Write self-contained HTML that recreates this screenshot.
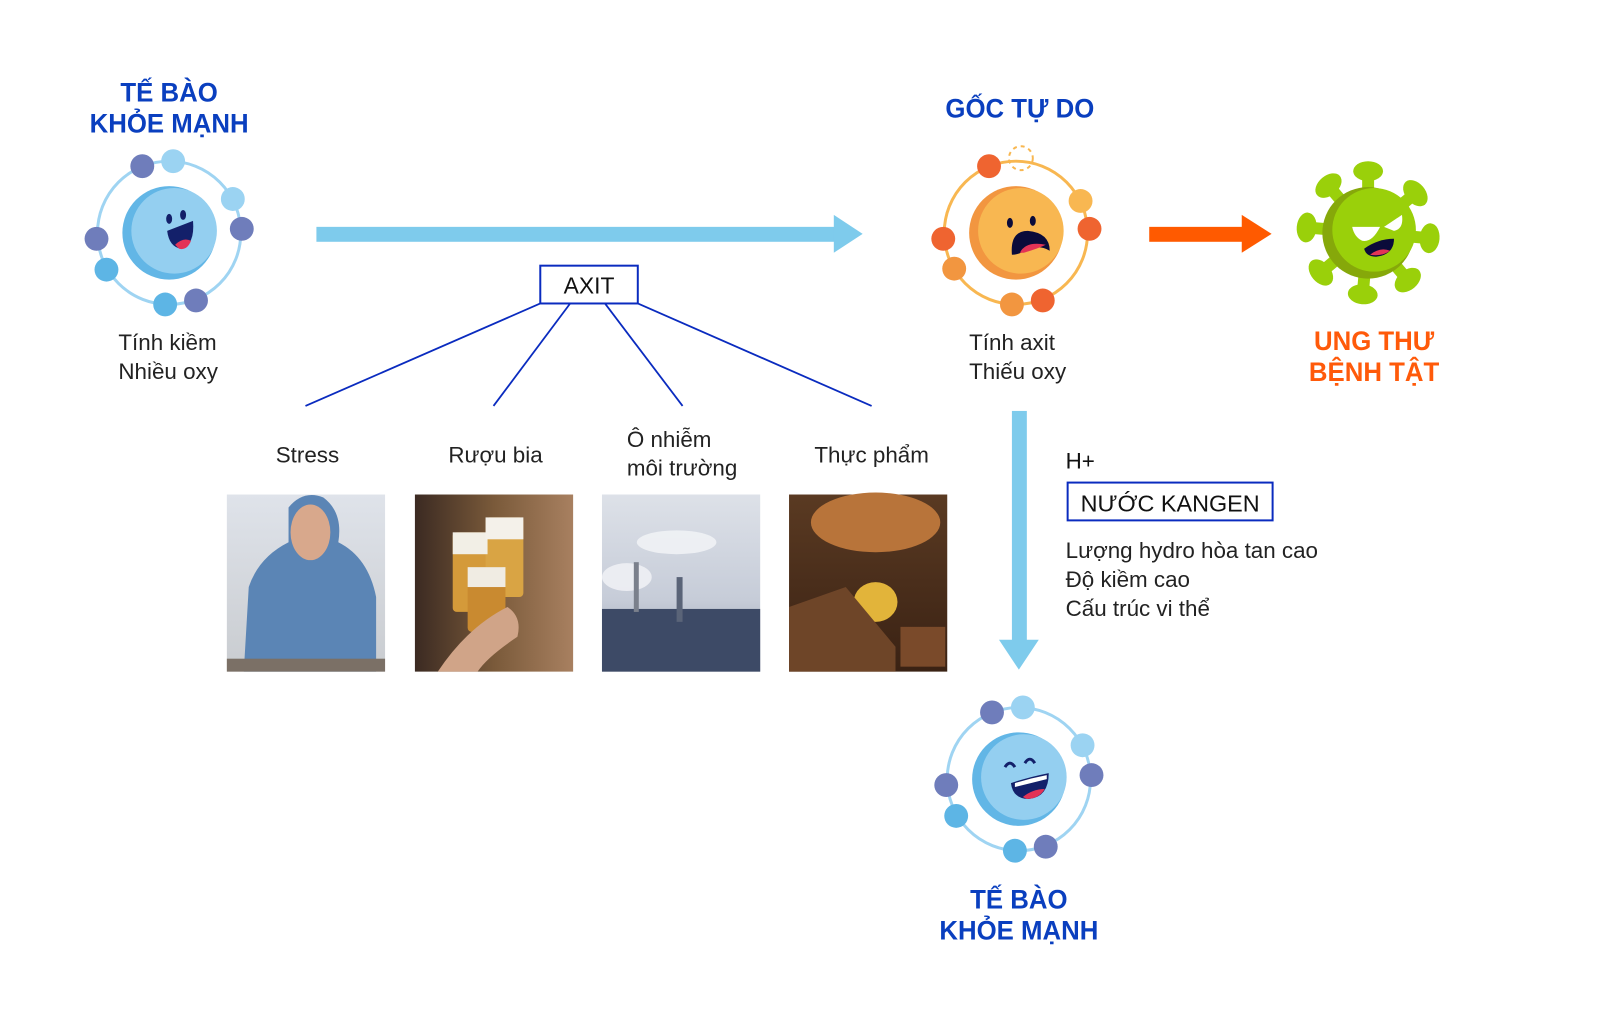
<!DOCTYPE html>
<html><head><meta charset="utf-8"><style>
html,body{margin:0;padding:0;background:#fff;}
svg{display:block;}
.t{font-family:"Liberation Sans",sans-serif;}
</style></head><body>
<svg width="1600" height="1023" viewBox="0 0 1600 1023" xmlns="http://www.w3.org/2000/svg">
<defs>
<g id="cellB">
 <circle cx="0" cy="0" r="72" fill="none" stroke="#9fd4f2" stroke-width="3"/>
 <circle cx="-27" cy="-67" r="12" fill="#6f7dbb"/>
 <circle cx="4" cy="-72" r="12" fill="#9bd3f2"/>
 <circle cx="64" cy="-34" r="12" fill="#9bd3f2"/>
 <circle cx="73" cy="-4" r="12" fill="#6f7dbb"/>
 <circle cx="-73" cy="6" r="12" fill="#6f7dbb"/>
 <circle cx="-63" cy="37" r="12" fill="#5db5e5"/>
 <circle cx="-4" cy="72" r="12" fill="#5db5e5"/>
 <circle cx="27" cy="68" r="12" fill="#6f7dbb"/>
 <circle cx="0" cy="0" r="47" fill="#62b6e6"/>
 <circle cx="5" cy="-2" r="43" fill="#94cff0"/>
</g>
<linearGradient id="p1" x1="0" y1="0" x2="0" y2="1"><stop offset="0" stop-color="#dfe3ea"/><stop offset="1" stop-color="#c9ccd0"/></linearGradient>
<linearGradient id="p2" x1="0" y1="0" x2="1" y2="0"><stop offset="0" stop-color="#3b2a22"/><stop offset="0.5" stop-color="#7a5a3a"/><stop offset="1" stop-color="#a88060"/></linearGradient>
<linearGradient id="p3" x1="0" y1="0" x2="0" y2="1"><stop offset="0" stop-color="#dde1e8"/><stop offset="0.6" stop-color="#c6ccd8"/><stop offset="1" stop-color="#8f98aa"/></linearGradient>
<linearGradient id="p4" x1="0" y1="0" x2="0" y2="1"><stop offset="0" stop-color="#5a3a22"/><stop offset="1" stop-color="#3a2214"/></linearGradient>
</defs>
<g transform="scale(0.995)">

<!-- Left cell -->
<g transform="translate(170,234)">
 <use href="#cellB"/>
 <ellipse cx="0" cy="-14" rx="3" ry="5" fill="#13206a"/>
 <ellipse cx="14" cy="-18" rx="3" ry="5" fill="#13206a"/>
 <path d="M-2 -2 L24 -12 Q26 12 12 16 Q0 14 -2 -2 Z" fill="#13206a"/>
 <path d="M6 12 Q14 4 22 8 Q18 18 10 16Z" fill="#e33356"/>
</g>
<text class="t" x="170" y="102" text-anchor="middle" font-size="27" font-weight="bold" fill="#0a3fbf" transform="translate(170,0) scale(0.96,1) translate(-170,0)">TẾ BÀO</text>
<text class="t" x="170" y="133" text-anchor="middle" font-size="27" font-weight="bold" fill="#0a3fbf" transform="translate(170,0) scale(0.96,1) translate(-170,0)">KHỎE MẠNH</text>
<text class="t" x="119" y="352" font-size="22.5" fill="#222">Tính kiềm</text>
<text class="t" x="119" y="381" font-size="22.5" fill="#222">Nhiều oxy</text>

<rect x="318" y="228" width="525" height="15" fill="#7ecbec"/>
<polygon points="838,216 867,235 838,254" fill="#7ecbec"/>

<rect x="543" y="267" width="98" height="38" fill="#fff" stroke="#0a2bbf" stroke-width="2"/>
<text class="t" x="592" y="295" text-anchor="middle" font-size="23" fill="#111">AXIT</text>
<g stroke="#0a2bbf" stroke-width="1.8">
<line x1="543" y1="305" x2="307" y2="408"/>
<line x1="573" y1="305" x2="496" y2="408"/>
<line x1="608" y1="305" x2="686" y2="408"/>
<line x1="641" y1="305" x2="876" y2="408"/>
</g>
<text class="t" x="309" y="465" text-anchor="middle" font-size="22.5" fill="#222">Stress</text>
<text class="t" x="498" y="465" text-anchor="middle" font-size="22.5" fill="#222">Rượu bia</text>
<text class="t" x="630" y="449" font-size="22.5" fill="#222">Ô nhiễm</text>
<text class="t" x="630" y="478" font-size="22.5" fill="#222">môi trường</text>
<text class="t" x="876" y="465" text-anchor="middle" font-size="22.5" fill="#222">Thực phẩm</text>

<rect x="228" y="497" width="159" height="178" fill="url(#p1)"/>
<path d="M245 675 L250 590 Q260 560 290 545 L290 510 Q305 492 325 500 Q345 515 340 545 Q370 560 378 600 L378 675Z" fill="#5b85b5"/>
<ellipse cx="312" cy="535" rx="20" ry="28" fill="#d8a88c"/>
<rect x="228" y="662" width="159" height="13" fill="#7b7066"/>
<rect x="417" y="497" width="159" height="178" fill="url(#p2)"/>
<rect x="455" y="535" width="35" height="80" rx="4" fill="#d49a3a"/>
<rect x="488" y="520" width="38" height="80" rx="4" fill="#d9a444"/>
<rect x="470" y="570" width="38" height="65" rx="4" fill="#c98a30"/>
<rect x="455" y="535" width="35" height="22" fill="#f2efe6"/>
<rect x="488" y="520" width="38" height="22" fill="#f4f1ea"/>
<rect x="470" y="570" width="38" height="20" fill="#f0ece3"/>
<path d="M440 675 Q470 630 510 610 Q525 620 520 640 Q490 660 480 675Z" fill="#d0a488"/>
<rect x="605" y="497" width="159" height="178" fill="url(#p3)"/>
<ellipse cx="680" cy="545" rx="40" ry="12" fill="#f0f2f5" opacity="0.9"/>
<ellipse cx="630" cy="580" rx="25" ry="14" fill="#eef0f4" opacity="0.9"/>
<rect x="605" y="612" width="159" height="63" fill="#3d4a66"/>
<rect x="680" y="580" width="6" height="45" fill="#5a6478"/>
<rect x="637" y="565" width="5" height="50" fill="#7a808c"/>
<rect x="793" y="497" width="159" height="178" fill="url(#p4)"/>
<ellipse cx="880" cy="525" rx="65" ry="30" fill="#b8743a"/>
<ellipse cx="880" cy="605" rx="22" ry="20" fill="#e2b43a"/>
<path d="M793 610 L850 590 L900 650 L900 675 L793 675Z" fill="#6e4528"/>
<rect x="905" y="630" width="45" height="40" fill="#7a4a2a"/>

<g transform="translate(1021,234)">
 <circle r="72" fill="none" stroke="#f8b751" stroke-width="3"/>
 <circle cx="5" cy="-75" r="12" fill="none" stroke="#f8b751" stroke-width="2" stroke-dasharray="4 4"/>
 <circle cx="-27" cy="-67" r="12" fill="#ef6430"/>
 <circle cx="65" cy="-32" r="12" fill="#f8b751"/>
 <circle cx="74" cy="-4" r="12" fill="#ef6430"/>
 <circle cx="-73" cy="6" r="12" fill="#ef6430"/>
 <circle cx="-62" cy="36" r="12" fill="#f29640"/>
 <circle cx="-4" cy="72" r="12" fill="#f29640"/>
 <circle cx="27" cy="68" r="12" fill="#ef6430"/>
 <circle r="47" fill="#f29640"/>
 <circle cx="5" cy="-2" r="43" fill="#f8b751"/>
 <ellipse cx="-6" cy="-10" rx="3" ry="5" fill="#0b0b3a"/>
 <ellipse cx="17" cy="-12" rx="3" ry="5" fill="#0b0b3a"/>
 <path d="M-4 22 Q-6 -2 12 -2 Q34 0 34 18 Q24 12 12 16 Q4 22 -4 22Z" fill="#0b0b3a"/>
 <path d="M4 20 Q10 8 30 12 Q22 16 8 20Z" fill="#e33356"/>
</g>
<text class="t" x="1025" y="118" text-anchor="middle" font-size="27" font-weight="bold" fill="#0a3fbf" transform="translate(1025,0) scale(0.96,1) translate(-1025,0)">GỐC TỰ DO</text>
<text class="t" x="974" y="352" font-size="22.5" fill="#222">Tính axit</text>
<text class="t" x="974" y="381" font-size="22.5" fill="#222">Thiếu oxy</text>

<rect x="1155" y="228" width="96" height="15" fill="#ff5a00"/>
<polygon points="1248,216 1278,235 1248,254" fill="#ff5a00"/>

<g transform="translate(1375,234)">
 <g id="sp"><rect x="-6" y="-64" width="12" height="24" fill="#9ad00a"/><ellipse cx="0" cy="-62" rx="15" ry="10" fill="#9ad00a"/></g>
 <use href="#sp" transform="rotate(50)"/><use href="#sp" transform="rotate(95)"/><use href="#sp" transform="rotate(140)"/><use href="#sp" transform="rotate(185)"/><use href="#sp" transform="rotate(230)"/><use href="#sp" transform="rotate(275)"/><use href="#sp" transform="rotate(320)"/>
 <circle r="46" fill="#86a80a"/>
 <circle cx="6" cy="-3" r="42" fill="#9ad00a"/>
 <path d="M-16 -6 L12 -6 Q4 10 -6 8 Q-14 4 -16 -6Z" fill="#fff"/>
 <path d="M16 -6 L34 -18 Q36 -4 26 -2Z" fill="#fff"/>
 <path d="M-4 16 Q10 6 26 6 Q26 22 8 24 Q-2 24 -4 16Z" fill="#0b0b3a"/>
 <path d="M2 22 Q12 14 22 18 Q14 24 2 22Z" fill="#e33356"/>
</g>
<text class="t" x="1381" y="352" text-anchor="middle" font-size="27" font-weight="bold" fill="#ff5a0a" transform="translate(1381,0) scale(0.96,1) translate(-1381,0)">UNG THƯ</text>
<text class="t" x="1381" y="383" text-anchor="middle" font-size="27" font-weight="bold" fill="#ff5a0a" transform="translate(1381,0) scale(0.96,1) translate(-1381,0)">BỆNH TẬT</text>

<rect x="1017" y="413" width="15" height="235" fill="#7ecbec"/>
<polygon points="1004,643 1044,643 1024,673" fill="#7ecbec"/>

<text class="t" x="1071" y="471" font-size="22.5" fill="#111">H+</text>
<rect x="1073" y="485" width="206" height="38" fill="#fff" stroke="#0a2bbf" stroke-width="2"/>
<text class="t" x="1176" y="514" text-anchor="middle" font-size="23.5" fill="#111">NƯỚC KANGEN</text>
<text class="t" x="1071" y="561" font-size="22.5" fill="#222">Lượng hydro hòa tan cao</text>
<text class="t" x="1071" y="590" font-size="22.5" fill="#222">Độ kiềm cao</text>
<text class="t" x="1071" y="619" font-size="22.5" fill="#222">Cấu trúc vi thể</text>

<g transform="translate(1024,783)">
 <use href="#cellB"/>
 <path d="M-14 -12 Q-9 -20 -4 -12" fill="none" stroke="#13206a" stroke-width="3"/>
 <path d="M6 -16 Q11 -24 16 -16" fill="none" stroke="#13206a" stroke-width="3"/>
 <path d="M-8 4 Q10 -2 30 -6 Q30 18 10 20 Q-6 20 -8 4Z" fill="#13206a"/>
 <path d="M-4 4 Q12 -1 28 -4 L28 0 Q12 4 -4 8Z" fill="#fff"/>
 <path d="M4 18 Q14 10 26 10 Q20 20 8 20Z" fill="#e33356"/>
</g>
<text class="t" x="1024" y="913" text-anchor="middle" font-size="27" font-weight="bold" fill="#0a3fbf" transform="translate(1024,0) scale(0.96,1) translate(-1024,0)">TẾ BÀO</text>
<text class="t" x="1024" y="944" text-anchor="middle" font-size="27" font-weight="bold" fill="#0a3fbf" transform="translate(1024,0) scale(0.96,1) translate(-1024,0)">KHỎE MẠNH</text>
</g>
</svg>
</body></html>
